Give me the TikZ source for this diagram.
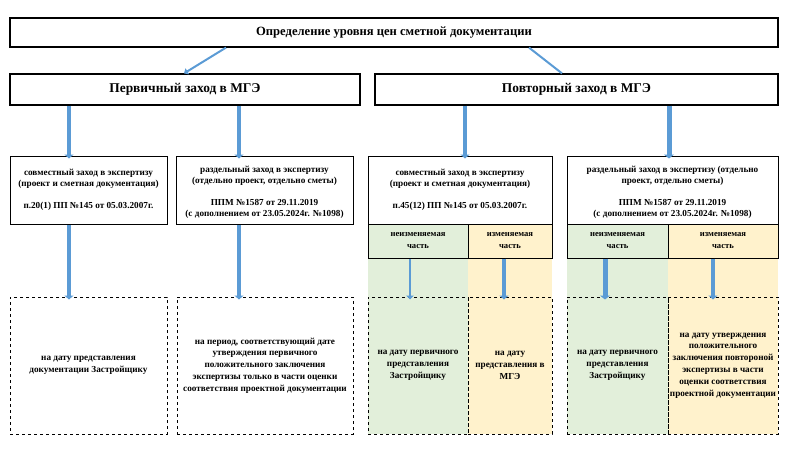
\documentclass[tikz,border=0pt]{standalone}
\usepackage{fontspec}
\setmainfont{Liberation Serif}
\usetikzlibrary{arrows.meta}

\definecolor{arrowblue}{HTML}{5B9BD5}
\definecolor{keepgreen}{HTML}{E2EFDA}
\definecolor{changeyellow}{HTML}{FFF2CC}

\tikzset{
  headbox/.style={draw, line width=1.2pt, align=center, inner sep=0pt,
    font=\bfseries\fontsize{12.6}{14}\selectfont},
  lawbox/.style={draw, line width=1pt, align=center, inner sep=0pt,
    font=\bfseries\fontsize{9.2}{11}\selectfont},
  partbox/.style={draw, line width=1pt, align=center, inner sep=0pt,
    font=\bfseries\fontsize{8.6}{12}\selectfont},
  datebox/.style={draw, dashed, line width=1pt, align=center, inner sep=0pt,
    minimum height=137pt, font=\bfseries\fontsize{9.2}{11.8}\selectfont},
  blockarrow/.style={draw=arrowblue, line width=#1,
    -{Triangle[length=4pt,width=#1+5pt]}},
  blockarrow/.default=4pt
}

\begin{document}
\begin{tikzpicture}[x=1pt,y=-1pt]
    \useasboundingbox (0,0) rectangle (800,450);

    % coloured strips behind the split parts
    \fill[keepgreen] (368,224) rectangle (468,434);
    \fill[changeyellow] (468,224) rectangle (552,434);
    \fill[keepgreen] (567,224) rectangle (668,434);
    \fill[changeyellow] (668,224) rectangle (778,434);

    \node[headbox, minimum width=768pt, minimum height=29pt] (title) at (394,32.5)
       {Определение уровня цен сметной документации};
    \node[headbox, font=\bfseries\fontsize{13.4}{15}\selectfont,
       minimum width=350pt, minimum height=31pt] (prim) at (185,89.5)
       {Первичный заход в МГЭ};
    \node[headbox, font=\bfseries\fontsize{13.4}{15}\selectfont,
       minimum width=403pt, minimum height=31pt] (povt) at (576.5,89.5)
       {Повторный заход в МГЭ};

    \node[lawbox, minimum width=157pt, minimum height=68pt] (primjoint) at (88.5,190)
       {совместный заход в экспертизу\\(проект и сметная документация)\\[11pt]
        п.20(1) ПП №145 от 05.03.2007г.};
    \node[lawbox, minimum width=177pt, minimum height=68pt] (primsplit) at (264.5,190)
       {\mbox{}\\раздельный заход в экспертизу\\(отдельно проект, отдельно сметы)\\[11pt]
        ППМ №1587 от 29.11.2019\\(с дополнением от 23.05.2024г. №1098)};
    \node[lawbox, minimum width=184pt, minimum height=68pt] (povtjoint) at (460,190)
       {совместный заход в экспертизу\\(проект и сметная документация)\\[11pt]
        п.45(12) ПП №145 от 05.03.2007г.};
    \node[lawbox, minimum width=211pt, minimum height=68pt] (povtsplit) at (672.5,190)
       {\mbox{}\\раздельный заход в экспертизу (отдельно\\проект, отдельно сметы)\\[11pt]
        ППМ №1587 от 29.11.2019\\(с дополнением от 23.05.2024г. №1098)};

    \node[partbox, fill=keepgreen, minimum width=100pt, minimum height=34pt] (jointkeep) at (418,241)
       {неизменяемая\\часть};
    \node[partbox, fill=changeyellow, minimum width=84pt, minimum height=34pt] (jointchange) at (510,241)
       {изменяемая\\часть};
    \node[partbox, fill=keepgreen, minimum width=101pt, minimum height=34pt] (splitkeep) at (617.5,241)
       {неизменяемая\\часть};
    \node[partbox, fill=changeyellow, minimum width=110pt, minimum height=34pt] (splitchange) at (723,241)
       {изменяемая\\часть};

    \node[datebox, minimum width=157pt] (date1) at (88.5,365.5)
       {на дату представления\\документации Застройщику};
    \node[datebox, minimum width=176pt] (date2) at (265,365.5)
       {на период, соответствующий дате\\утверждения первичного\\положительного заключения\\
        экспертизы только в части оценки\\соответствия проектной документации};
    \node[datebox, minimum width=100pt] (date3) at (418,365.5)
       {на дату первичного\\представления\\Застройщику};
    \node[datebox, minimum width=84pt] (date4) at (510,365.5)
       {на дату\\представления в\\МГЭ};
    \node[datebox, minimum width=101pt] (date5) at (617.5,365.5)
       {на дату первичного\\представления\\Застройщику};
    \node[datebox, minimum width=110pt] (date6) at (723,365.5)
       {на дату утверждения\\положительного\\заключения повтороной\\экспертизы  в части\\
        оценки соответствия\\проектной документации};

    % connectors
    \draw[blockarrow=2pt] ([xshift=-168pt]title.south) -- ([xshift=-1pt]prim.north);
    \draw[arrowblue, line width=2pt] ([xshift=135pt]title.south) -- ([xshift=-14.5pt]povt.north);

    \coordinate (c1) at (69,0);
    \coordinate (c2) at (239,0);
    \coordinate (c3) at (465,0);
    \coordinate (c4) at (669,0);
    \draw[blockarrow] (prim.south -| c1) -- ([yshift=-3pt]primjoint.north -| c1);
    \draw[blockarrow] (prim.south -| c2) -- ([yshift=-3pt]primsplit.north -| c2);
    \draw[blockarrow] (povt.south -| c3) -- ([yshift=-3pt]povtjoint.north -| c3);
    \draw[blockarrow=5pt] (povt.south -| c4) -- ([yshift=-3pt]povtsplit.north -| c4);

    \draw[blockarrow] (primjoint.south -| c1) -- ([yshift=-3pt]date1.north -| c1);
    \draw[blockarrow] (primsplit.south -| c2) -- ([yshift=-3pt]date2.north -| c2);

    \coordinate (c5) at (410,0);
    \coordinate (c6) at (504,0);
    \coordinate (c7) at (605,0);
    \coordinate (c8) at (713,0);
    \draw[blockarrow=2.5pt] (jointkeep.south -| c5) -- ([yshift=-3pt]date3.north -| c5);
    \draw[blockarrow] (jointchange.south -| c6) -- ([yshift=-3pt]date4.north -| c6);
    \draw[blockarrow=5pt] (splitkeep.south -| c7) -- ([yshift=-3pt]date5.north -| c7);
    \draw[blockarrow] (splitchange.south -| c8) -- ([yshift=-3pt]date6.north -| c8);
\end{tikzpicture}
\end{document}
